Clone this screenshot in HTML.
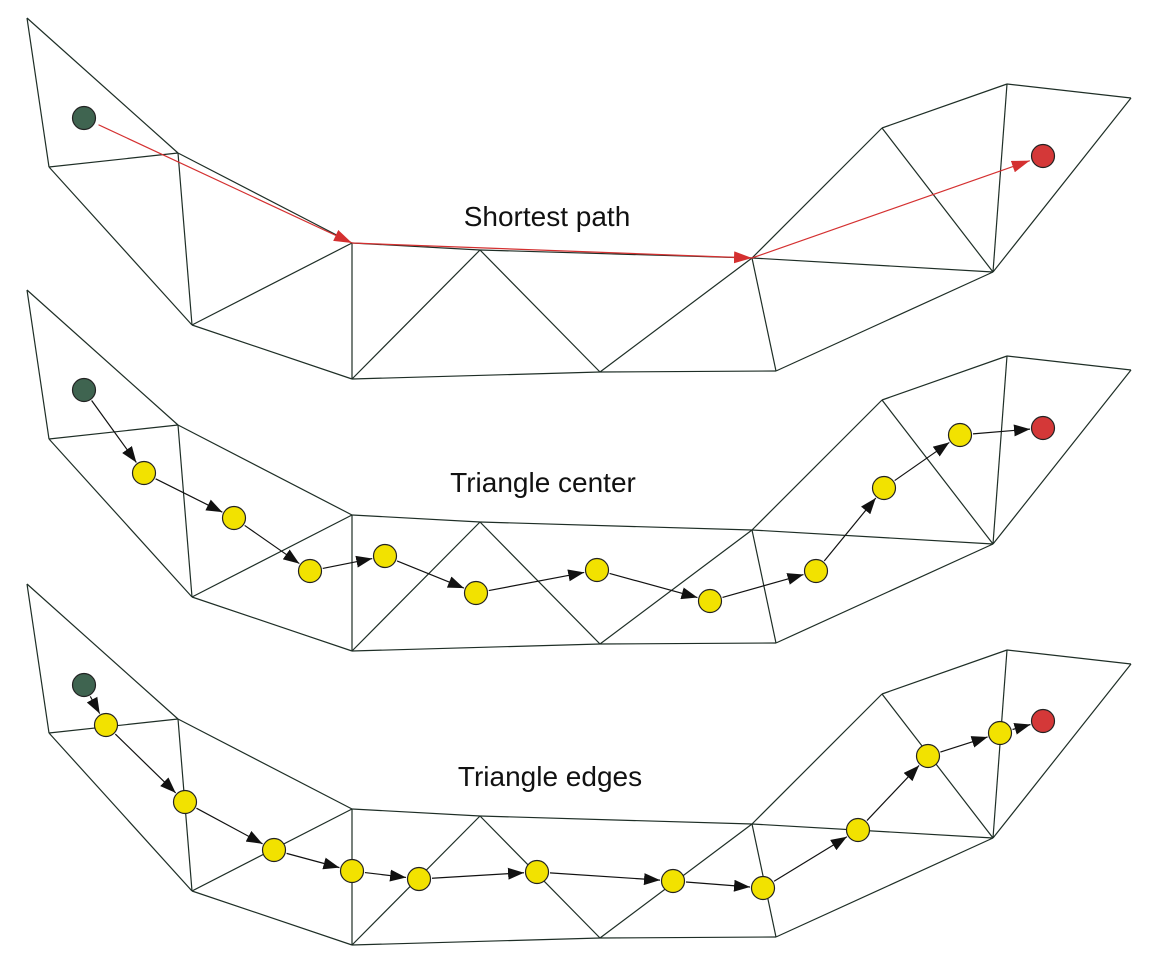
<!DOCTYPE html>
<html><head><meta charset="utf-8"><style>
html,body{margin:0;padding:0;background:#fff;}
svg{display:block;}
text{font-family:"Liberation Sans",sans-serif;font-size:28px;fill:#111;}
</style></head><body>
<svg id="s" width="1160" height="953" viewBox="0 0 1160 953" xmlns="http://www.w3.org/2000/svg">
<defs>
<marker id="ab" markerWidth="16" markerHeight="12" refX="16" refY="6" orient="auto" markerUnits="userSpaceOnUse" viewBox="0 0 16 12"><path d="M0,0 L16,6 L0,12 z" fill="#111"/></marker>
<marker id="ar" markerWidth="18" markerHeight="12" refX="18" refY="6" orient="auto" markerUnits="userSpaceOnUse" viewBox="0 0 18 12"><path d="M0,0 L18,6 L0,12 z" fill="#d43030"/></marker>
</defs>
</svg>
<script>
const vertices = {A:[27,18],B:[49,167],C:[178,153],D:[192,325],E:[352,243],F:[352,379],G:[480,250],H:[600,372],I:[752,258],J:[776,371],K:[882,128],L:[993,272],M:[1007,84],N:[1131,98]};
const edges = ["AB","AC","BC","BD","CD","CE","DE","DF","EF","EG","FG","GH","FH","GI","HI","HJ","IJ","IK","JL","IL","KL","KM","ML","MN","NL"];
const panelOffsets = [0,272,566];
const titles = ["Shortest path","Triangle center","Triangle edges"];
const titlePos = [[547,226],[543,492],[550,786]];
const starts = [[84,118],[84,390],[84,685]];
const ends = [[1043,156],[1043,428],[1043,721]];
const shortestPath = [[84,118],[352,243],[752,258],[1043,156]];
const centerNodes = [[144,473],[234,518],[310,571],[385,556],[476,593],[597,570],[710,601],[816,571],[884,488],[960,435]];
const edgeNodes = [[106,725],[185,802],[274,850],[352,871],[419,879],[537,872],[673,881],[763,888],[858,830],[928,756],[1000,733]];

const svg=document.getElementById('s');
const NS="http://www.w3.org/2000/svg";
function mk(t,a){const e=document.createElementNS(NS,t);for(const k in a)e.setAttribute(k,a[k]);svg.appendChild(e);return e;}
function shorten(p,q,r1,r2){const dx=q[0]-p[0],dy=q[1]-p[1],d=Math.hypot(dx,dy);return [p[0]+dx*r1/d,p[1]+dy*r1/d,q[0]-dx*r2/d,q[1]-dy*r2/d];}

panelOffsets.forEach((off,pi)=>{
  edges.forEach(e=>{
    const a=vertices[e[0]],b=vertices[e[1]];
    const l=mk('line',{x1:a[0],y1:a[1]+off,x2:b[0],y2:b[1]+off,stroke:'#1e2e26','stroke-width':1.2});
    
    
  });
  const t=mk('text',{x:titlePos[pi][0],y:titlePos[pi][1],'text-anchor':'middle'});
  t.textContent=titles[pi];
  
  
});

for(let i=0;i<shortestPath.length-1;i++){
  const p=shortestPath[i],q=shortestPath[i+1];
  const s=shorten(p,q,i==0?16:0,i==shortestPath.length-2?14:0);
  const l=mk('line',{x1:s[0],y1:s[1],x2:s[2],y2:s[3],stroke:'#d43030','stroke-width':1.2,'marker-end':'url(#ar)'});
  
  
}

function chain(pts){
  for(let i=0;i<pts.length-1;i++){
    const s=shorten(pts[i],pts[i+1],13,13);
    const l=mk('line',{x1:s[0],y1:s[1],x2:s[2],y2:s[3],stroke:'#111','stroke-width':1.2,'marker-end':'url(#ab)'});
    
    
  }
}
chain([starts[1],...centerNodes,ends[1]]);
chain([starts[2],...edgeNodes,ends[2]]);

function circ(p,fill,name){
  const c=mk('circle',{cx:p[0],cy:p[1],r:11.5,fill:fill,stroke:'#222','stroke-width':1.2});
  
  
}
centerNodes.forEach(p=>circ(p,'#f2e200','path-node'));
edgeNodes.forEach(p=>circ(p,'#f2e200','path-node'));
starts.forEach(p=>circ(p,'#3f6450','start-node'));
ends.forEach(p=>circ(p,'#d43838','end-node'));
</script>
</body></html>
